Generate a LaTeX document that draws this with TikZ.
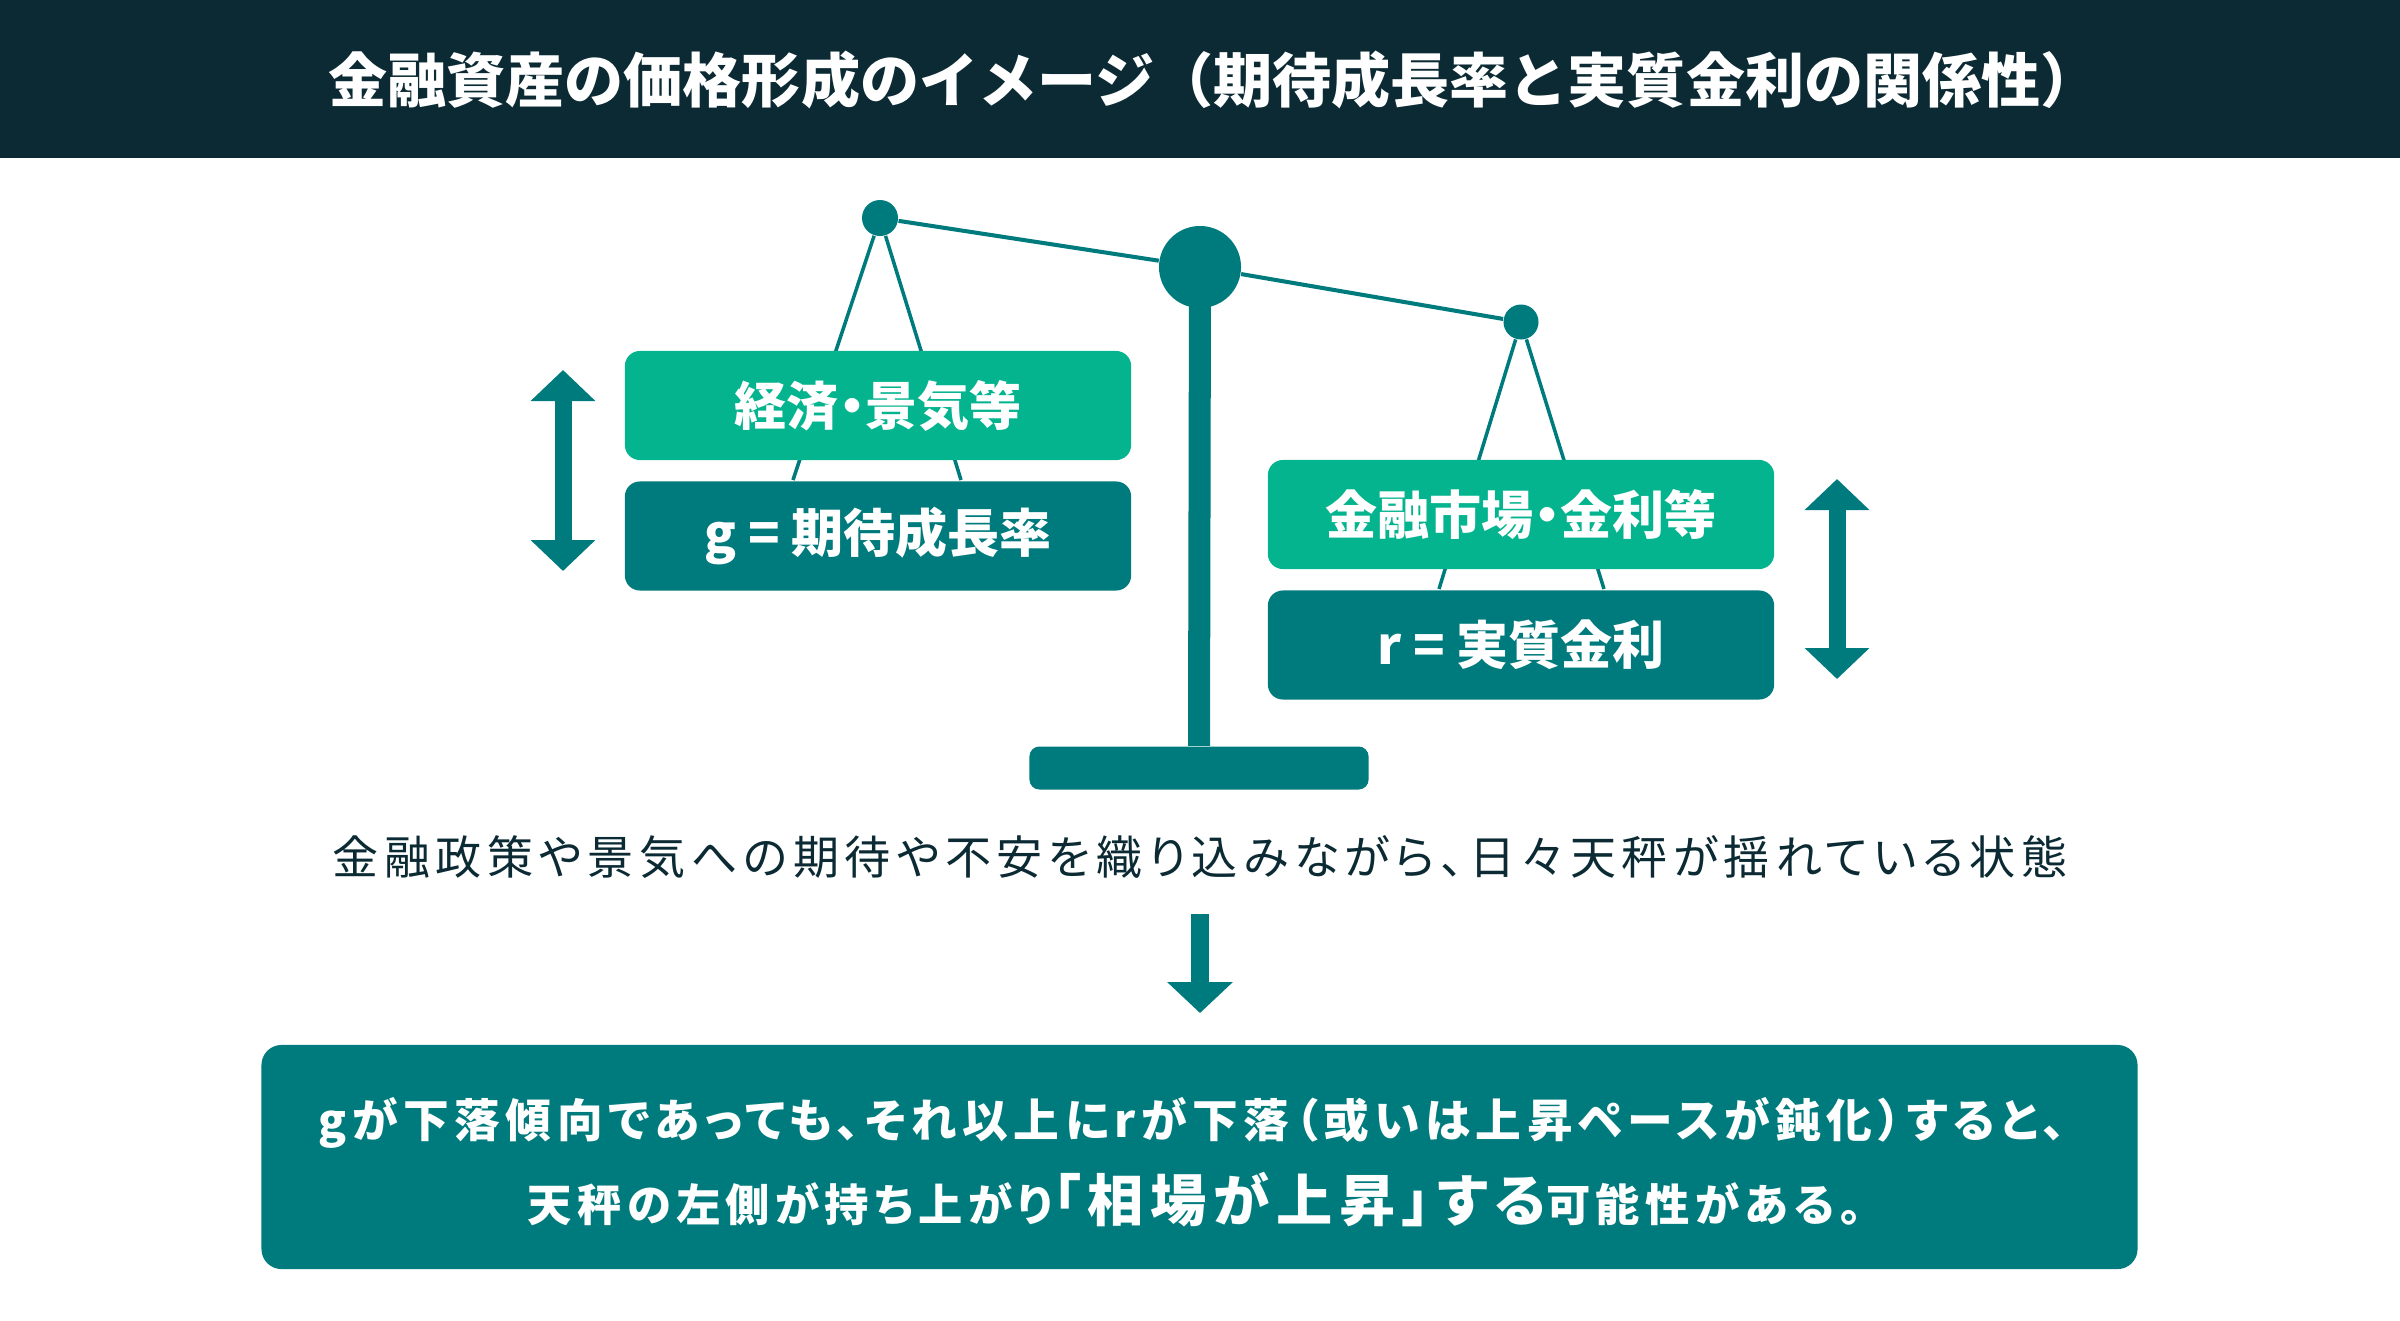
\documentclass[tikz,border=0pt]{standalone}
\usepackage{fontspec}
\usepackage{xcolor}
\usepackage{tikz}
\usetikzlibrary{arrows.meta, positioning}
\setmainfont{Noto Sans CJK JP}
\newfontfamily\jpprop{Noto Sans CJK JP}[RawFeature=+palt]
\newfontfamily\jpwide{Noto Sans CJK JP}[RawFeature=+palt, LetterSpace=12]
\definecolor{barcolor}{RGB}{11,42,51}
\definecolor{inkcolor}{RGB}{11,42,51}
\definecolor{tealcolor}{RGB}{0,123,125}
\definecolor{greencolor}{RGB}{4,180,143}
\tikzset{
  panel/.style={rectangle, rounded corners=0.15cm, minimum width=5.06cm,
                minimum height=1.09cm, fill=#1, text=white, inner sep=0pt,
                font=\jpprop\bfseries\fontsize{14.8}{17}\selectfont},
  panel/.default=tealcolor,
  pivot/.style={circle, fill=tealcolor, inner sep=0pt, minimum size=#1},
  cord/.style={draw=tealcolor, line width=1pt},
  beam/.style={draw=tealcolor, line width=1.15pt},
  updown/.style={{Triangle[width=0.63cm,length=0.31cm]}-{Triangle[width=0.63cm,length=0.31cm]},
                 draw=tealcolor, line width=0.17cm},
  downarrow/.style={-{Triangle[width=0.64cm,length=0.31cm]}, draw=tealcolor,
                    line width=0.18cm},
  resultline/.style={text=white, inner sep=0pt,
                     font=\jpwide\bfseries\fontsize{#1}{15}\selectfont},
  resultline/.default=13,
}

\begin{document}
\begin{tikzpicture}[x=0.01cm, y=-0.01cm, node distance=0.2cm]
  \useasboundingbox (0,0) rectangle (2400,1320);

  % title bar
  \fill[barcolor] (0,0) rectangle (2400,158);
  \node[text=white, font=\bfseries\fontsize{16.8}{20}\selectfont]
    (title) at (1214,80) {金融資産の価格形成のイメージ（期待成長率と実質金利の関係性）};

  % balance
  \node[pivot=0.82cm] (hub) at (1200,267) {};
  \node[pivot=0.36cm] (lpivot) at (880,218) {};
  \node[pivot=0.35cm] (rpivot) at (1521,322) {};
  \node[rectangle, rounded corners=0.1cm, fill=tealcolor, inner sep=0pt,
        minimum width=3.39cm, minimum height=0.43cm]
    (base) at (1199,768) {};
  \draw[tealcolor, line width=0.22cm] (hub.center) -- (base.north);
  \draw[beam] (lpivot) -- (hub);
  \draw[beam] (hub) -- (rpivot);

  % cords (behind the panels)
  \coordinate (lcordA) at (793,480);
  \coordinate (lcordB) at (961,480);
  \coordinate (rcordA) at (1439,589);
  \coordinate (rcordB) at (1604,589);
  \draw[cord] (lcordA) -- (lpivot) -- (lcordB);
  \draw[cord] (rcordA) -- (rpivot) -- (rcordB);

  \node[panel=greencolor] (econ) at (878,405.5) {経済・景気等};
  \node[panel, below=of econ] (growth) {g = 期待成長率};

  \node[panel=greencolor] (market) at (1521,514.5) {金融市場・金利等};
  \node[panel, below=of market] (rate) {r = 実質金利};

  % up/down arrows
  \coordinate (gtop) at (563,370);
  \coordinate (gbot) at (563,571);
  \draw[updown] (gtop) -- (gbot);
  \coordinate (rtop) at (1837,479);
  \coordinate (rbot) at (1837,679);
  \draw[updown] (rtop) -- (rbot);

  % caption and result
  \node[text=inkcolor, font=\jpwide\fontsize{13.1}{16}\selectfont]
    (caption) at (1200,857) {金融政策や景気への期待や不安を織り込みながら、日々天秤が揺れている状態};

  \coordinate (dtop) at (1200,914);
  \coordinate (dtip) at (1200,1013);
  \draw[downarrow] (dtop) -- (dtip);

  \node[rectangle, rounded corners=0.2cm, fill=tealcolor,
        minimum width=18.75cm, minimum height=2.24cm]
    (result) at (1199.5,1157) {};
  \node[resultline] (resultA) at (1192,1123)
    {gが下落傾向であっても、それ以上にrが下落（或いは上昇ペースが鈍化）すると、};
  \node[resultline=12.6] (resultB) at (1195,1200)
    {天秤の左側が持ち上がり{\fontsize{16}{19}\selectfont 「相場が上昇」する}可能性がある。};

\end{tikzpicture}
\end{document}
